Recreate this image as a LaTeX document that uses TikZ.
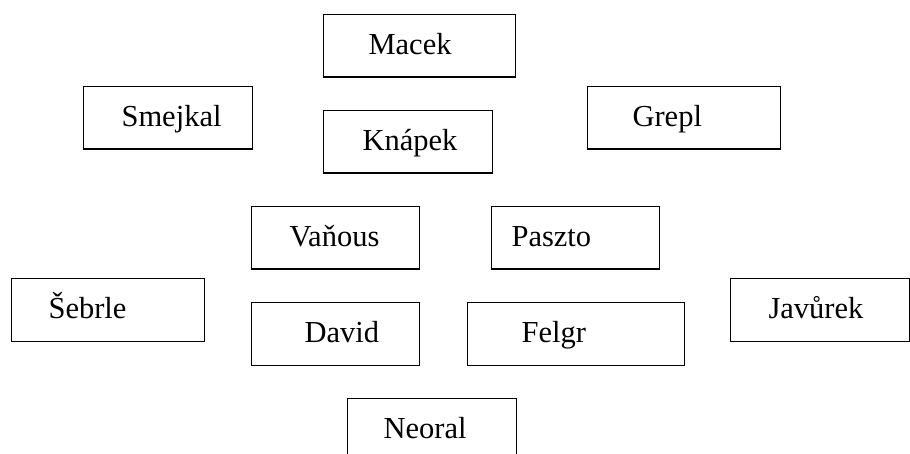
\documentclass[tikz,border=0pt]{standalone}
\usepackage{fontspec}
\setmainfont{Liberation Serif}
\usepackage{tikz}
\usetikzlibrary{positioning}

\begin{document}
\begin{tikzpicture}[
    x=1pt, y=-1pt,
    namebox/.style 2 args={rectangle, draw, line width=1.1pt, anchor=north west,
        inner xsep=0pt, inner ysep=20pt, text height=20pt, text depth=2.5pt,
        text width=#1pt, align=left, font=\fontsize{30.5}{36}\selectfont,
        execute at begin node={\hspace*{#2pt}}}
]
\useasboundingbox (0,0) rectangle (910,454);

% Top row
\node[namebox={192}{45}] (macek) at (323,14) {Macek};
\node[namebox={169}{38}] (smejkal) at (83,86) {Smejkal};
\node[namebox={169}{39}] (knapek) at (323,110) {Knápek};
\node[namebox={193}{45}] (grepl) at (587,86) {Grepl};

% Middle rows
\node[namebox={168}{38}] (vanous) at (251,206) {Vaňous};
\node[namebox={168}{20}] (paszto) at (491,206) {Paszto};
\node[namebox={193}{37}] (sebrle) at (11,278) {Šebrle};
\node[namebox={168}{53}] (david) at (251,302) {David};
\node[namebox={217}{54}] (felgr) at (467,302) {Felgr};
\node[namebox={179}{38}] (javurek) at (730,278) {Javůrek};

% Bottom
\node[namebox={169}{36}] (neoral) at (347,398) {Neoral};

\end{tikzpicture}
\end{document}
